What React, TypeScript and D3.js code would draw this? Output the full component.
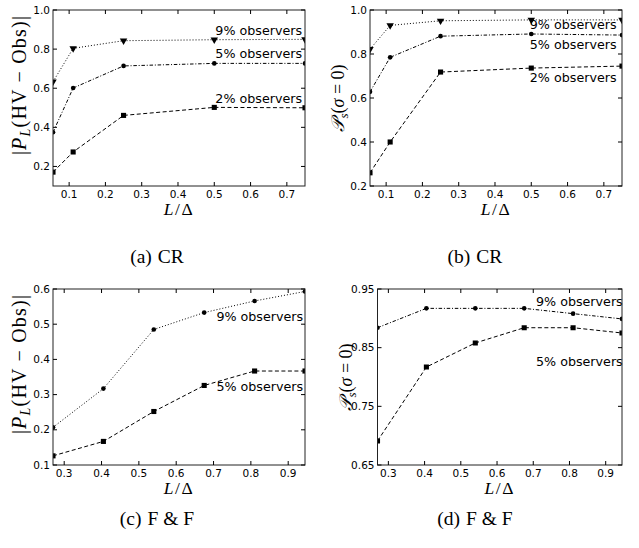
import React from 'react';
import * as d3 from 'd3';

// L/Δ sample points
const crSpacing = [1 / 18, 1 / 9, 0.25, 0.5, 0.75];
const ffSpacing = [0.27, 0.405, 0.54, 0.675, 0.81, 0.945];

// (a) CR: |P_L(HV - Obs)|
const crPL9 = [0.633, 0.804, 0.843, 0.848, 0.85];
const crPL5 = [0.375, 0.601, 0.714, 0.727, 0.727];
const crPL2 = [0.171, 0.274, 0.461, 0.502, 0.5];

// (b) CR: P_s(sigma = 0)
const crPs9 = [0.822, 0.93, 0.951, 0.955, 0.955];
const crPs5 = [0.628, 0.785, 0.881, 0.891, 0.886];
const crPs2 = [0.26, 0.4, 0.718, 0.736, 0.745];

// (c) F & F: |P_L(HV - Obs)|
const ffPL9 = [0.207, 0.317, 0.485, 0.533, 0.566, 0.593];
const ffPL5 = [0.126, 0.167, 0.252, 0.326, 0.367, 0.367];

// (d) F & F: P_s(sigma = 0)
const ffPs9 = [0.884, 0.917, 0.917, 0.917, 0.908, 0.899];
const ffPs5 = [0.691, 0.817, 0.858, 0.884, 0.884, 0.875];

const crXTicks = [0.1, 0.2, 0.3, 0.4, 0.5, 0.6, 0.7];
const ffXTicks = [0.3, 0.4, 0.5, 0.6, 0.7, 0.8, 0.9];
const crPLTicks = [0.2, 0.4, 0.6, 0.8, 1.0];
const crPsTicks = [0.2, 0.4, 0.6, 0.8, 1.0];
const ffPLTicks = [0.1, 0.2, 0.3, 0.4, 0.5, 0.6];
const ffPsTicks = [0.65, 0.75, 0.85, 0.95];

const SANS = '"DejaVu Sans", sans-serif';
const SERIF = '"Liberation Serif", "DejaVu Serif", serif';

const DOTTED = '1,2';
const DASHDOT = '3.5,1.8,1,1.8';
const DASHED = '4,2.5';

type Marker = 'square' | 'circle' | 'triangle';
type Series = { values: number[]; marker: Marker; dash: string };
type Note = { text: string; x: number; y: number };
type Box = { l: number; r: number; t: number; b: number };

const markerPath = (m: Marker) => {
  if (m === 'square') return d3.symbol(d3.symbolSquare, 26)()!;
  if (m === 'circle') return d3.symbol(d3.symbolCircle, 17)()!;
  return d3.symbol(d3.symbolTriangle, 24)()!;
};

const PLLabel = () => (
  <>
    <tspan>|</tspan>
    <tspan fontStyle="italic">P</tspan>
    <tspan fontStyle="italic" fontSize="14" dy="4">L</tspan>
    <tspan dy="-4">(HV − Obs)|</tspan>
  </>
);

const PsLabel = () => (
  <>
    <tspan fontStyle="italic">𝒫</tspan>
    <tspan fontStyle="italic" fontSize="13" dy="4">s</tspan>
    <tspan dy="-4">(</tspan>
    <tspan fontStyle="italic">σ</tspan>
    <tspan> = 0)</tspan>
  </>
);

function Panel(props: {
  id: string;
  box: Box;
  xs: number[];
  xDomain: [number, number];
  yDomain: [number, number];
  xTicks: number[];
  yTicks: number[];
  fmt: string;
  series: Series[];
  notes: Note[];
  yLabel: 'PL' | 'Ps';
  caption: [string, string];
  capX: number;
  capY: number;
}) {
  const { id, box, xs, xDomain, yDomain, xTicks, yTicks, fmt, series, notes, yLabel, caption, capX, capY } = props;
  const x = d3.scaleLinear().domain(xDomain).range([box.l, box.r]);
  const y = d3.scaleLinear().domain(yDomain).range([box.b, box.t]);
  const line = d3.line<number>().x((_, i) => x(xs[i])).y((d) => y(d));
  const f = d3.format(fmt);
  const fx = d3.format('.1f');
  const tick = 4;
  const cy = (box.t + box.b) / 2;

  return (
    <g>
      <defs>
        <clipPath id={`clip-${id}`}>
          <rect x={box.l} y={box.t} width={box.r - box.l} height={box.b - box.t} />
        </clipPath>
      </defs>

      <g clipPath={`url(#clip-${id})`}>
        {series.map((s, i) => (
          <g key={i}>
            <path d={line(s.values)!} fill="none" stroke="#000" strokeWidth={1} strokeDasharray={s.dash} />
            {s.values.map((v, j) => (
              <path
                key={j}
                d={markerPath(s.marker)}
                transform={`translate(${x(xs[j])},${y(v)})${s.marker === 'triangle' ? ' rotate(180)' : ''}`}
                fill="#000"
              />
            ))}
          </g>
        ))}
      </g>

      {notes.map((n, i) => (
        <text key={i} x={x(n.x)} y={y(n.y)} textAnchor="end" fontFamily={SANS} fontSize={12.7} fill="#000">
          {n.text}
        </text>
      ))}

      <rect x={box.l} y={box.t} width={box.r - box.l} height={box.b - box.t} fill="none" stroke="#222" strokeWidth={1} />

      {xTicks.map((t) => (
        <g key={`x${t}`}>
          <line x1={x(t)} x2={x(t)} y1={box.b} y2={box.b - tick} stroke="#000" />
          <line x1={x(t)} x2={x(t)} y1={box.t} y2={box.t + tick} stroke="#000" />
          <text x={x(t)} y={box.b + 11.5} textAnchor="middle" fontFamily={SANS} fontSize={10.5} fill="#000">
            {fx(t)}
          </text>
        </g>
      ))}
      {yTicks.map((t) => (
        <g key={`y${t}`}>
          <line x1={box.l} x2={box.l + tick} y1={y(t)} y2={y(t)} stroke="#000" />
          <line x1={box.r} x2={box.r - tick} y1={y(t)} y2={y(t)} stroke="#000" />
          <text x={box.l - 3} y={y(t)} dy="0.35em" textAnchor="end" fontFamily={SANS} fontSize={10.5} fill="#000">
            {f(t)}
          </text>
        </g>
      ))}

      <text
        x={(box.l + box.r) / 2}
        y={box.b + 28.5}
        textAnchor="middle"
        fontFamily={SERIF}
        fontSize={17.5}
        letterSpacing={1.5}
      >
        <tspan fontStyle="italic">L</tspan>
        <tspan>/Δ</tspan>
      </text>

      {yLabel === 'PL' ? (
        <text
          transform={`translate(${box.l - 27},${cy - 13}) rotate(-90)`}
          textAnchor="middle"
          fontFamily={SERIF}
          fontSize={20}
          letterSpacing={1.2}
        >
          <PLLabel />
        </text>
      ) : (
        <text
          transform={`translate(${box.l - 26},${cy}) rotate(-90)`}
          textAnchor="middle"
          fontFamily={SERIF}
          fontSize={18}
        >
          <PsLabel />
        </text>
      )}

      <text x={capX} y={capY} textAnchor="middle" fontFamily={SERIF} fontSize={19.5} fill="#000">
        <tspan>{caption[0]}</tspan>
        <tspan dx="6">{caption[1]}</tspan>
      </text>
    </g>
  );
}

export default function App() {
  const crDomain: [number, number] = [1 / 18, 0.75];
  const ffDomain: [number, number] = [0.27, 0.945];
  return (
    <svg width={639} height={548} style={{ position: 'absolute', left: 0, top: 0, background: '#fff' }}>
      <Panel
        id="a"
        box={{ l: 53, r: 305, t: 10, b: 186 }}
        xs={crSpacing}
        xDomain={crDomain}
        yDomain={[0.1, 1.0]}
        xTicks={crXTicks}
        yTicks={crPLTicks}
        fmt=".1f"
        series={[
          { values: crPL9, marker: 'triangle', dash: DOTTED },
          { values: crPL5, marker: 'circle', dash: DASHDOT },
          { values: crPL2, marker: 'square', dash: DASHED },
        ]}
        notes={[
          { text: '9% observers', x: 0.742, y: 0.872 },
          { text: '5% observers', x: 0.742, y: 0.756 },
          { text: '2% observers', x: 0.742, y: 0.523 },
        ]}
        yLabel="PL"
        caption={['(a)', 'CR']}
        capX={157}
        capY={263}
      />
      <Panel
        id="b"
        box={{ l: 370, r: 622, t: 10, b: 186 }}
        xs={crSpacing}
        xDomain={crDomain}
        yDomain={[0.2, 1.0]}
        xTicks={crXTicks}
        yTicks={crPsTicks}
        fmt=".1f"
        series={[
          { values: crPs9, marker: 'triangle', dash: DOTTED },
          { values: crPs5, marker: 'circle', dash: DASHDOT },
          { values: crPs2, marker: 'square', dash: DASHED },
        ]}
        notes={[
          { text: '9% observers', x: 0.735, y: 0.912 },
          { text: '5% observers', x: 0.735, y: 0.821 },
          { text: '2% observers', x: 0.735, y: 0.675 },
        ]}
        yLabel="Ps"
        caption={['(b)', 'CR']}
        capX={475}
        capY={263}
      />
      <Panel
        id="c"
        box={{ l: 53, r: 305, t: 289, b: 465 }}
        xs={ffSpacing}
        xDomain={ffDomain}
        yDomain={[0.1, 0.6]}
        xTicks={ffXTicks}
        yTicks={ffPLTicks}
        fmt=".1f"
        series={[
          { values: ffPL9, marker: 'circle', dash: DOTTED },
          { values: ffPL5, marker: 'square', dash: DASHED },
        ]}
        notes={[
          { text: '9% observers', x: 0.94, y: 0.508 },
          { text: '5% observers', x: 0.94, y: 0.31 },
        ]}
        yLabel="PL"
        caption={['(c)', 'F & F']}
        capX={157}
        capY={525}
      />
      <Panel
        id="d"
        box={{ l: 377.5, r: 622, t: 289, b: 465 }}
        xs={ffSpacing}
        xDomain={ffDomain}
        yDomain={[0.65, 0.95]}
        xTicks={ffXTicks}
        yTicks={ffPsTicks}
        fmt=".2f"
        series={[
          { values: ffPs9, marker: 'circle', dash: DASHDOT },
          { values: ffPs5, marker: 'square', dash: DASHED },
        ]}
        notes={[
          { text: '9% observers', x: 0.947, y: 0.9205 },
          { text: '5% observers', x: 0.947, y: 0.8196 },
        ]}
        yLabel="Ps"
        caption={['(d)', 'F & F']}
        capX={475}
        capY={525}
      />
    </svg>
  );
}
